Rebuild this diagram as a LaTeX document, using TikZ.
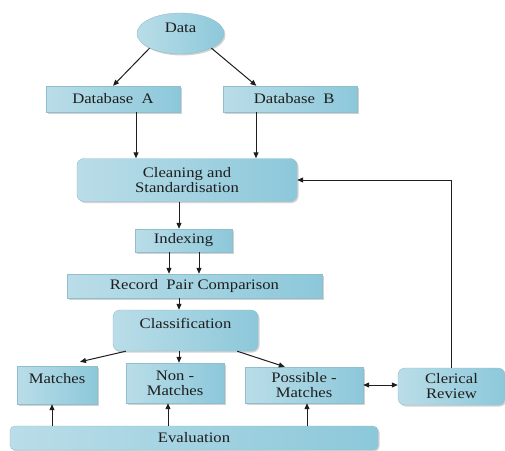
\documentclass[tikz,border=0pt]{standalone}
\usepackage{fontspec}
\setmainfont{Liberation Serif}[FakeStretch=1.15]
\usetikzlibrary{arrows.meta,shadows,calc,shapes.geometric}
\definecolor{boxL}{HTML}{BADDE8}
\definecolor{boxM}{HTML}{DCF0F5}
\definecolor{boxR}{HTML}{8CC8DA}
\definecolor{boxD}{HTML}{8FBFCE}
\definecolor{ink}{HTML}{1E1E1E}
\begin{document}
\begin{tikzpicture}[x=1pt,y=-1pt,
  base/.style={font=\fontsize{14.5}{15}\selectfont, text=ink, align=center,
    inner sep=0pt, draw=boxD, line width=0.4pt,
    left color=boxL, middle color=boxM, right color=boxR,
    drop shadow={shadow xshift=1.5pt, shadow yshift=-1.5pt, opacity=0.35, fill=gray}},
  sq/.style={base, rectangle},
  rd/.style={base, rectangle, rounded corners=7pt},
  ell/.style={base, ellipse},
  arr/.style={-{Triangle[length=6pt,width=5pt]}, line width=1pt, draw=ink},
  darr/.style={{Triangle[length=6pt,width=5pt]}-{Triangle[length=6pt,width=5pt]}, line width=1pt, draw=ink}
]
\useasboundingbox (0,0) rectangle (505,450);
\fill[white] (0,0) rectangle (505,450);

\node[ell, minimum width=87pt, minimum height=41pt] (data) at (180.5,33.5) {\raisebox{1.5pt}[0pt][0pt]{Data}};
\node[sq, minimum width=134pt, minimum height=26pt] (dba) at (113,99) {Database\ \ A};
\node[sq, minimum width=134pt, minimum height=26pt] (dbb) at (290,99) {\ \ Database\ \ B};
\node[rd, minimum width=220pt, minimum height=43pt] (clean) at (187,180) {Cleaning and\\Standardisation};
\node[sq, minimum width=97pt, minimum height=23pt] (index) at (183.5,240.5) {Indexing};
\node[sq, minimum width=255pt, minimum height=24pt] (rpc) at (194.5,286) {Record\ \ Pair Comparison};
\node[rd, minimum width=145pt, minimum height=41pt] (class) at (185.5,330.5) {\raisebox{2pt}[0pt][0pt]{Classification}};
\node[sq, minimum width=80pt, minimum height=38pt] (matches) at (57,385) {\raisebox{2pt}[0pt][0pt]{Matches}};
\node[sq, minimum width=98pt, minimum height=40pt] (non) at (175,383) {Non -\\Matches};
\node[sq, minimum width=118pt, minimum height=36pt] (poss) at (304,385) {Possible -\\Matches};
\node[rd, minimum width=107pt, minimum height=37pt] (cler) at (451.5,386.5) {Clerical\\Review};
\node[rd, rounded corners=5pt, minimum width=368pt, minimum height=24pt] (eval) at (194,438) {Evaluation};

\draw[arr] (data.south west) -- (dba.north);
\draw[arr] (data.south east) -- ($(dbb.north west)!0.25!(dbb.north east)$);
\draw[arr] ([xshift=23pt]dba.south) -- ([xshift=23pt]dba.south |- clean.north);
\draw[arr] ([xshift=-34pt]dbb.south) -- ([xshift=-34pt]dbb.south |- clean.north);
\draw[arr] (cler.north) |- (clean.east);
\draw[arr] ([xshift=-4.5pt]index.north |- clean.south) -- ([xshift=-4.5pt]index.north);
\draw[arr] ([xshift=-14.5pt]index.south) -- ([xshift=-14.5pt]index.south |- rpc.north);
\draw[arr] ([xshift=15.5pt]index.south) -- ([xshift=15.5pt]index.south |- rpc.north);
\draw[arr] ([xshift=-6.5pt]class.north |- rpc.south) -- ([xshift=-6.5pt]class.north);
\draw[arr] ([xshift=13pt]class.south west) -- ([xshift=23pt,yshift=4pt]matches.north);
\draw[arr] ([xshift=4pt]non.north |- class.south) -- ([xshift=4pt]non.north);
\draw[arr] ([xshift=-21pt]class.south east) -- ([xshift=40pt]poss.north west);
\draw[darr] (poss.east) -- (poss.east -| cler.west);
\draw[arr] ([xshift=-5pt]matches.south |- eval.north) -- ([xshift=-5pt]matches.south);
\draw[arr] ([xshift=-7pt]non.south |- eval.north) -- ([xshift=-7pt]non.south);
\draw[arr] ([xshift=3pt]poss.south |- eval.north) -- ([xshift=3pt]poss.south);
\end{tikzpicture}
\end{document}
